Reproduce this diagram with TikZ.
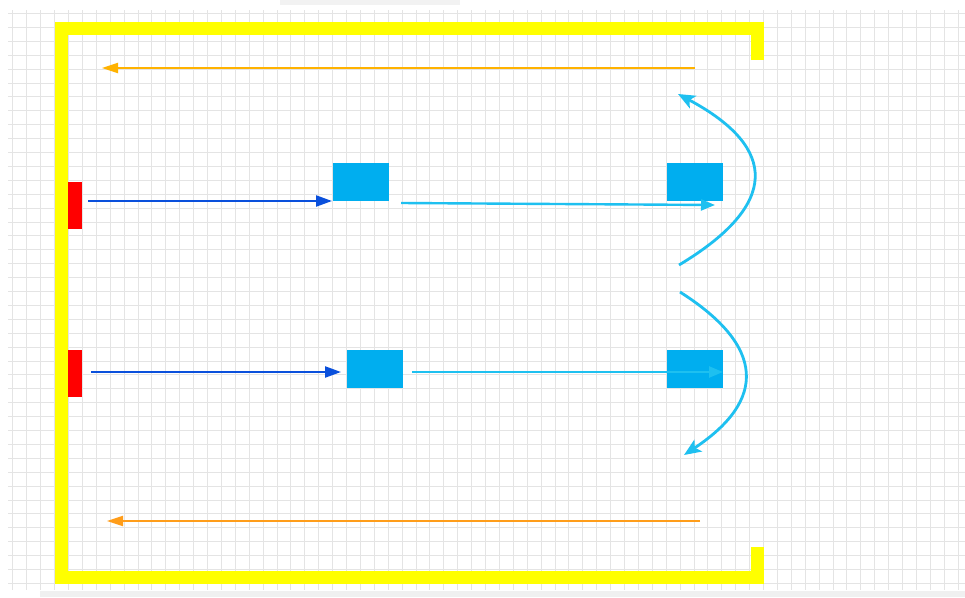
\documentclass[tikz,border=0pt]{standalone}
\usetikzlibrary{arrows.meta}
\definecolor{yel}{RGB}{255,255,0}
\definecolor{redbar}{RGB}{255,0,0}
\definecolor{boxblue}{RGB}{0,174,239}
\definecolor{darkarr}{RGB}{10,80,220}
\definecolor{lightarr}{RGB}{30,192,240}
\definecolor{orangeA}{RGB}{255,178,0}
\definecolor{orangeB}{RGB}{255,157,26}
\definecolor{gridc}{RGB}{228,228,228}
\begin{document}
\begin{tikzpicture}[x=1pt,y=-1pt,
  gridline/.style={draw=gridc, line width=0.6pt},
  frame/.style={draw=yel, line width=13pt, line join=miter, line cap=butt},
  redbox/.style={fill=redbar, draw=none, inner sep=0pt, minimum width=14pt, minimum height=47pt},
  bluebox/.style={fill=boxblue, draw=none, inner sep=0pt, minimum width=56pt, minimum height=38pt},
  darrow/.style={draw=darkarr, line width=2.2pt, -{Triangle[length=16pt,width=11pt]}},
  larrow/.style={draw=lightarr, line width=2.4pt, -{Triangle[length=14pt,width=11pt]}},
  carrow/.style={draw=lightarr, line width=2.8pt, -{Stealth[length=17pt,width=14pt,inset=4pt]}},
  oarrowA/.style={draw=orangeA, line width=1.8pt, -{Triangle[length=16pt,width=10pt]}},
  oarrowB/.style={draw=orangeB, line width=1.8pt, -{Triangle[length=16pt,width=10pt]}}
]
\useasboundingbox (0,0) rectangle (965,597);
\fill[white] (0,0) rectangle (965,597);
% grid
\foreach \i in {0,...,68} \draw[gridline] ({12.7+13.9*\i},10) -- ({12.7+13.9*\i},590);
\foreach \j in {0,...,41} \draw[gridline] (8,{13.3+13.9*\j}) -- (965,{13.3+13.9*\j});
\fill[gray!10] (280,0) rectangle (460,5);
\fill[gray!12] (40,591) rectangle (965,597);
% frame
\draw[frame] (757,60) -- (757,28) -- (61,28) -- (61,577) -- (757,577) -- (757,547);
% red bars
\node[redbox] (r1) at (75,205.5) {};
\node[redbox] (r2) at (75,373.5) {};
% blue boxes
\node[bluebox] (b1) at (361,182) {};
\node[bluebox] (b2) at (375,368.5) {};
\node[bluebox] (b3) at (695,182) {};
\node[bluebox] (b4) at (695,368.5) {};
% coordinates
\coordinate (o1s) at (695,68);
\coordinate (o1e) at (102,68);
\coordinate (o2s) at (700,521);
\coordinate (o2e) at (107,521);
\coordinate (d1s) at (88,201);
\coordinate (d1e) at (332,201);
\coordinate (d2s) at (91,372);
\coordinate (d2e) at (341,372);
\coordinate (l1s) at (401,203);
\coordinate (l1e) at (715,205);
\coordinate (l2s) at (412,372);
\coordinate (l2e) at (723,372);
\coordinate (c1s) at (679,265);
\coordinate (c1e) at (678,94);
\coordinate (c2s) at (680,292);
\coordinate (c2e) at (684,455);
% arrows
\draw[oarrowA] (o1s) -- (o1e);
\draw[oarrowB] (o2s) -- (o2e);
\draw[darrow] (d1s) -- (d1e);
\draw[darrow] (d2s) -- (d2e);
\draw[larrow] (l1s) -- (l1e);
\draw[larrow] (l2s) -- (l2e);
\draw[carrow] (c1s) .. controls (779,205) and (779,148) .. (c1e);
\draw[carrow] (c2s) .. controls (765,346) and (767,400) .. (c2e);
\end{tikzpicture}
\end{document}
